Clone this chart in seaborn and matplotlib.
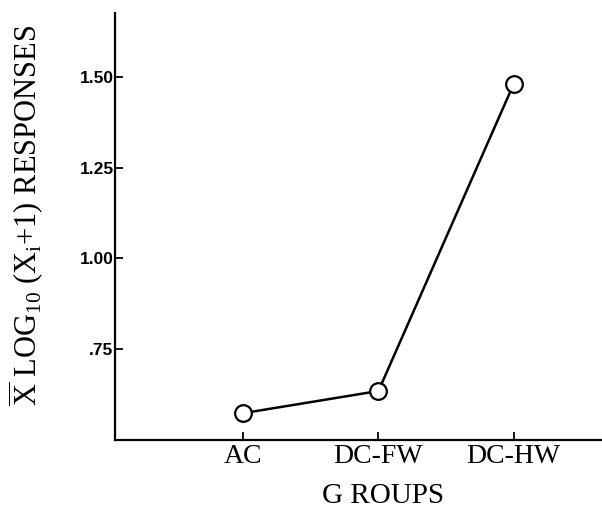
import matplotlib
matplotlib.use("Agg")
import matplotlib.pyplot as plt
import seaborn as sns
import pandas as pd

# Mean log10(Xi+1) responses per group
groups = ["AC", "DC-FW", "DC-HW"]
mean_log_resp = [0.574, 0.635, 1.48]
y_ticks = [0.75, 1.00, 1.25, 1.50]
y_tick_labels = [".75", "1.00", "1.25", "1.50"]

sns.set_style("ticks")
plt.rcParams["mathtext.fontset"] = "custom"
plt.rcParams["mathtext.rm"] = "Liberation Serif"
plt.rcParams["mathtext.it"] = "Liberation Serif:italic"
plt.rcParams["text.color"] = "black"
plt.rcParams["axes.labelcolor"] = "black"

df = pd.DataFrame({"group": groups, "resp": mean_log_resp})

fig = plt.figure(figsize=(6.02, 5.12), dpi=100)
ax = fig.add_axes([0.191, 0.1406, 0.808, 0.834])

sns.lineplot(data=df, x="group", y="resp", ax=ax, sort=False, color="black",
             linewidth=1.8, marker="o", markersize=12, markerfacecolor="white",
             markeredgecolor="black", markeredgewidth=1.6)

ax.set_xlim(-0.95, 2.65)
ax.set_ylim(0.50, 1.676)
ax.set_yticks(y_ticks)
ax.set_yticklabels(y_tick_labels, fontfamily="Liberation Sans",
                   fontweight="bold", fontsize=12.5, color="black")
ax.set_xticks(range(len(groups)))
ax.set_xticklabels(groups, fontfamily="Liberation Serif", fontsize=20,
                   color="black")
ax.tick_params(axis="y", direction="in", length=6, width=1.3, pad=1,
               color="black")
ax.tick_params(axis="x", direction="in", length=6, width=1.3, pad=3,
               color="black")

for side in ["top", "right"]:
    ax.spines[side].set_visible(False)
for side in ["left", "bottom"]:
    ax.spines[side].set_linewidth(1.6)
    ax.spines[side].set_color("black")

ax.set_xlabel("G ROUPS", fontfamily="Liberation Serif", fontsize=21)
ax.xaxis.set_label_coords(0.551, -0.1)
ax.set_ylabel(r"$\overline{\mathrm{X}}$ LOG$_{10}$ (X$_{\mathrm{i}}$+1) RESPONSES",
              fontfamily="Liberation Serif", fontsize=22)
ax.yaxis.set_label_coords(-0.142, 0.525)

fig.savefig("out.png", dpi=100)
